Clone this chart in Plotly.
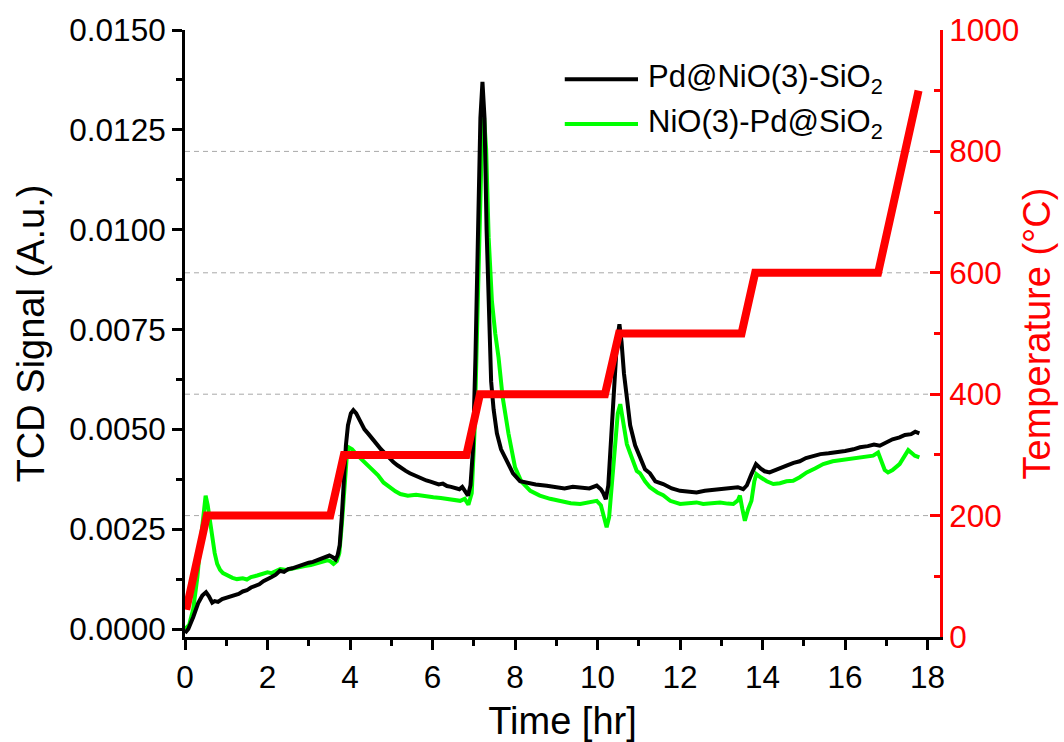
import plotly.graph_objects as go

# Temperature programme (right axis)
temp_time = [0.03, 0.53, 3.52, 3.85, 6.82, 7.15, 10.18, 10.52, 13.49, 13.82, 16.80, 17.78]
temp_degc = [45, 200, 200, 300, 300, 400, 400, 500, 500, 600, 600, 900]

# TCD signal, Pd@NiO(3)-SiO2
pd_nio_time = [0.00, 0.08, 0.20, 0.32, 0.42, 0.51, 0.58, 0.66, 0.72, 0.80, 0.90, 1.00, 1.10, 1.20,
               1.30, 1.40, 1.50, 1.60, 1.70, 1.80, 1.90, 2.00, 2.10, 2.20, 2.30, 2.40, 2.50, 2.60,
               2.70, 2.80, 2.90, 3.00, 3.10, 3.20, 3.30, 3.40, 3.50, 3.58, 3.65, 3.70, 3.75, 3.80,
               3.85, 3.90, 3.95, 4.02, 4.08, 4.15, 4.25, 4.35, 4.45, 4.55, 4.65, 4.75, 4.85, 4.95,
               5.05, 5.15, 5.25, 5.35, 5.45, 5.55, 5.65, 5.75, 5.85, 5.95, 6.05, 6.15, 6.25, 6.35,
               6.45, 6.55, 6.65, 6.72, 6.80, 6.86, 6.92, 6.98, 7.04, 7.10, 7.16, 7.21, 7.26, 7.31,
               7.36, 7.42, 7.48, 7.56, 7.66, 7.80, 7.95, 8.12, 8.30, 8.50, 8.77, 9.00, 9.20, 9.40,
               9.58, 9.80, 9.98, 10.08, 10.14, 10.20, 10.26, 10.32, 10.40, 10.47, 10.53, 10.58,
               10.64, 10.71, 10.79, 10.91, 11.03, 11.15, 11.27, 11.40, 11.59, 11.80, 12.00, 12.20,
               12.40, 12.60, 12.80, 13.00, 13.20, 13.40, 13.53, 13.62, 13.73, 13.84, 13.95, 14.05,
               14.17, 14.30, 14.45, 14.58, 14.75, 14.90, 15.05, 15.23, 15.40, 15.60, 15.79, 16.00,
               16.20, 16.36, 16.55, 16.70, 16.84, 17.00, 17.15, 17.32, 17.45, 17.60, 17.70, 17.80]
pd_nio_signal = [-0.00010, 0.00000, 0.00030, 0.00065, 0.00084, 0.00092, 0.00082, 0.00066, 0.00070,
                 0.00068, 0.00075, 0.00078, 0.00082, 0.00086, 0.00088, 0.00094, 0.00097, 0.00104,
                 0.00108, 0.00112, 0.00120, 0.00124, 0.00130, 0.00136, 0.00146, 0.00143, 0.00150,
                 0.00152, 0.00156, 0.00158, 0.00162, 0.00166, 0.00168, 0.00172, 0.00176, 0.00182,
                 0.00184, 0.00180, 0.00174, 0.00185, 0.00210, 0.00280, 0.00380, 0.00460, 0.00510,
                 0.00540, 0.00548, 0.00540, 0.00520, 0.00500, 0.00488, 0.00475, 0.00462, 0.00450,
                 0.00440, 0.00428, 0.00418, 0.00410, 0.00402, 0.00396, 0.00390, 0.00385, 0.00380,
                 0.00376, 0.00372, 0.00369, 0.00366, 0.00362, 0.00364, 0.00358, 0.00356, 0.00352,
                 0.00350, 0.00356, 0.00345, 0.00334, 0.00360, 0.00450, 0.00680, 0.00980, 0.01280,
                 0.01370, 0.01280, 0.01000, 0.00780, 0.00620, 0.00550, 0.00490, 0.00450, 0.00420,
                 0.00390, 0.00370, 0.00366, 0.00362, 0.00359, 0.00356, 0.00352, 0.00356, 0.00355,
                 0.00352, 0.00359, 0.00350, 0.00340, 0.00325, 0.00360, 0.00450, 0.00600, 0.00720,
                 0.00763, 0.00720, 0.00640, 0.00580, 0.00510, 0.00460, 0.00430, 0.00400, 0.00390,
                 0.00370, 0.00363, 0.00352, 0.00346, 0.00344, 0.00342, 0.00346, 0.00348, 0.00350,
                 0.00352, 0.00355, 0.00350, 0.00360, 0.00388, 0.00413, 0.00402, 0.00395, 0.00392,
                 0.00398, 0.00404, 0.00409, 0.00416, 0.00420, 0.00428, 0.00434, 0.00438, 0.00440,
                 0.00442, 0.00446, 0.00450, 0.00455, 0.00458, 0.00462, 0.00459, 0.00468, 0.00475,
                 0.00480, 0.00486, 0.00488, 0.00494, 0.00490]

# TCD signal, NiO(3)-Pd@SiO2
nio_pd_time = [0.00, 0.10, 0.20, 0.30, 0.38, 0.45, 0.50, 0.55, 0.60, 0.66, 0.72, 0.78, 0.85, 0.92,
               1.02, 1.15, 1.26, 1.40, 1.50, 1.60, 1.75, 1.90, 2.00, 2.10, 2.20, 2.31, 2.45, 2.60,
               2.75, 2.90, 3.05, 3.20, 3.35, 3.45, 3.52, 3.60, 3.68, 3.74, 3.80, 3.86, 3.92, 3.97,
               4.05, 4.15, 4.28, 4.41, 4.55, 4.68, 4.81, 4.95, 5.10, 5.22, 5.40, 5.60, 5.80, 6.02,
               6.20, 6.40, 6.55, 6.67, 6.78, 6.87, 6.95, 7.02, 7.08, 7.14, 7.20, 7.25, 7.30, 7.36,
               7.44, 7.52, 7.60, 7.70, 7.84, 8.00, 8.15, 8.37, 8.60, 8.85, 9.10, 9.35, 9.58, 9.80,
               9.98, 10.08, 10.15, 10.22, 10.28, 10.35, 10.42, 10.49, 10.55, 10.62, 10.71, 10.79,
               10.95, 11.03, 11.15, 11.27, 11.45, 11.59, 11.76, 12.00, 12.20, 12.40, 12.56, 12.75,
               12.97, 13.15, 13.29, 13.40, 13.45, 13.51, 13.57, 13.65, 13.73, 13.80, 13.85, 13.95,
               14.10, 14.26, 14.42, 14.58, 14.74, 14.90, 15.07, 15.27, 15.47, 15.70, 16.03, 16.30,
               16.50, 16.68, 16.80, 16.88, 16.96, 17.04, 17.15, 17.32, 17.45, 17.53, 17.62, 17.69,
               17.80]
nio_pd_signal = [0.00000, 0.00010, 0.00050, 0.00130, 0.00220, 0.00300, 0.00334, 0.00310, 0.00270,
                 0.00238, 0.00190, 0.00163, 0.00148, 0.00140, 0.00134, 0.00128, 0.00125, 0.00127,
                 0.00124, 0.00130, 0.00134, 0.00138, 0.00142, 0.00140, 0.00146, 0.00150, 0.00148,
                 0.00152, 0.00155, 0.00158, 0.00160, 0.00165, 0.00168, 0.00172, 0.00170, 0.00163,
                 0.00170, 0.00190, 0.00260, 0.00360, 0.00430, 0.00455, 0.00450, 0.00438, 0.00425,
                 0.00413, 0.00400, 0.00385, 0.00367, 0.00355, 0.00345, 0.00338, 0.00334, 0.00336,
                 0.00332, 0.00330, 0.00328, 0.00325, 0.00322, 0.00321, 0.00326, 0.00311, 0.00340,
                 0.00500, 0.00750, 0.01050, 0.01240, 0.01280, 0.01200, 0.00980, 0.00820, 0.00740,
                 0.00680, 0.00580, 0.00490, 0.00405, 0.00370, 0.00346, 0.00334, 0.00326, 0.00320,
                 0.00315, 0.00313, 0.00318, 0.00321, 0.00310, 0.00280, 0.00255, 0.00280, 0.00360,
                 0.00460, 0.00540, 0.00563, 0.00520, 0.00463, 0.00440, 0.00396, 0.00390, 0.00370,
                 0.00355, 0.00342, 0.00335, 0.00321, 0.00313, 0.00316, 0.00317, 0.00313, 0.00316,
                 0.00317, 0.00314, 0.00313, 0.00322, 0.00334, 0.00300, 0.00271, 0.00300, 0.00321,
                 0.00370, 0.00388, 0.00380, 0.00370, 0.00363, 0.00365, 0.00370, 0.00371, 0.00380,
                 0.00392, 0.00402, 0.00413, 0.00420, 0.00425, 0.00430, 0.00432, 0.00434, 0.00442,
                 0.00420, 0.00398, 0.00392, 0.00398, 0.00413, 0.00435, 0.00448, 0.00440, 0.00434,
                 0.00430]

# Axis ticks and reference levels
x_ticks = [0, 2, 4, 6, 8, 10, 12, 14, 16, 18]
signal_ticks = [0.0, 0.0025, 0.005, 0.0075, 0.01, 0.0125, 0.015]
temp_ticks = [0, 200, 400, 600, 800, 1000]
temp_grid_levels = [200, 400, 600, 800]

legend_entries = ["Pd@NiO(3)-SiO<sub>2</sub>", "NiO(3)-Pd@SiO<sub>2</sub>"]

FONT = "Liberation Sans, Arial, sans-serif"
BLACK = "#000000"
GREEN = "#00ff00"
RED = "#ff0000"
TICK_SIZE = 31.5
TITLE_SIZE = 38

fig = go.Figure()

# Green first so the black signal sits above it where they overlap
fig.add_trace(go.Scatter(x=nio_pd_time, y=nio_pd_signal, mode="lines",
                         line=dict(color=GREEN, width=4), name=legend_entries[1],
                         showlegend=False, yaxis="y"))
fig.add_trace(go.Scatter(x=pd_nio_time, y=pd_nio_signal, mode="lines",
                         line=dict(color=BLACK, width=4), name=legend_entries[0],
                         showlegend=False, yaxis="y"))
fig.add_trace(go.Scatter(x=temp_time, y=temp_degc, mode="lines",
                         line=dict(color=RED, width=8), name="Temperature",
                         showlegend=False, yaxis="y2"))

# Dashed horizontal guides at the temperature ticks
for lvl in temp_grid_levels:
    fig.add_shape(type="line", xref="paper", x0=0, x1=1, yref="y2", y0=lvl, y1=lvl,
                  line=dict(color="#a8a8a8", width=1, dash="5px,4px"), layer="below")

# Legend drawn as line samples with labels
legend_rows = [(0.919, BLACK), (0.845, GREEN)]
for (ypos, col), label in zip(legend_rows, legend_entries):
    fig.add_shape(type="line", xref="paper", yref="paper", x0=0.503, x1=0.600,
                  y0=ypos, y1=ypos, line=dict(color=col, width=4))
    fig.add_annotation(xref="paper", yref="paper", x=0.610, y=ypos, text=label,
                       showarrow=False, xanchor="left", yanchor="middle",
                       font=dict(family=FONT, size=31, color=BLACK))

fig.update_layout(
    width=1064, height=742,
    margin=dict(l=185, r=124, t=30, b=105, pad=0, autoexpand=False),
    paper_bgcolor="white", plot_bgcolor="white",
    font=dict(family=FONT, color=BLACK),
    xaxis=dict(
        range=[0, 18.3], tickvals=x_ticks, ticktext=[str(v) for v in x_ticks],
        showline=True, linecolor=BLACK, linewidth=3, mirror=False, automargin=False,
        ticks="outside", ticklen=10, tickwidth=3, tickcolor=BLACK,
        minor=dict(ticks="outside", ticklen=6, tickwidth=3, tickcolor=BLACK, dtick=1, tick0=0,
                   showgrid=False),
        showgrid=False, zeroline=False,
        tickfont=dict(size=TICK_SIZE, family=FONT, color=BLACK),
        title=dict(text="Time [hr]", font=dict(size=TITLE_SIZE, family=FONT, color=BLACK),
                   standoff=16),
    ),
    yaxis=dict(
        range=[-0.0002, 0.015], tickvals=signal_ticks,
        ticktext=[f"{v:.4f}" for v in signal_ticks],
        showline=True, linecolor=BLACK, linewidth=3, automargin=False,
        ticks="outside", ticklen=10, tickwidth=3, tickcolor=BLACK,
        minor=dict(ticks="outside", ticklen=6, tickwidth=3, tickcolor=BLACK, dtick=0.00125,
                   tick0=0, showgrid=False),
        showgrid=False, zeroline=False,
        tickfont=dict(size=TICK_SIZE, family=FONT, color=BLACK),
        title=dict(text="TCD Signal (A.u.)", font=dict(size=TITLE_SIZE, family=FONT, color=BLACK),
                   standoff=14),
    ),
    yaxis2=dict(
        overlaying="y", side="right", anchor="x", automargin=False,
        range=[0, 1000], tickvals=temp_ticks, ticktext=[str(v) for v in temp_ticks],
        showline=True, linecolor=RED, linewidth=3,
        ticks="inside", ticklen=10, tickwidth=3, tickcolor=RED,
        minor=dict(ticks="inside", ticklen=6, tickwidth=3, tickcolor=RED, dtick=100, tick0=0,
                   showgrid=False),
        showgrid=False, zeroline=False,
        tickfont=dict(size=TICK_SIZE, family=FONT, color=RED),
        title=dict(text="Temperature (°C)", font=dict(size=TITLE_SIZE, family=FONT, color=RED),
                   standoff=6),
    ),
)

fig.write_html("out.html")
